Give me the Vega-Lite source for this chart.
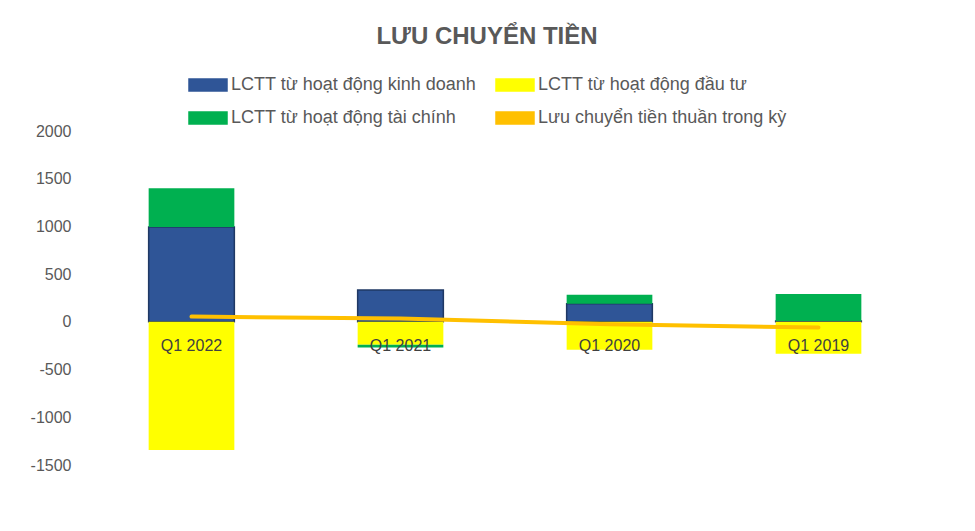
{
  "$schema": "https://vega.github.io/schema/vega-lite/v6.json",
  "width": 836,
  "height": 334,
  "padding": {"left": 30, "top": 25, "right": 10, "bottom": 10},
  "background": "white",
  "title": {
    "text": "LƯU CHUYỂN TIỀN",
    "font": "Liberation Sans",
    "fontSize": 24,
    "fontWeight": "bold",
    "color": "#595959",
    "anchor": "middle",
    "frame": "group",
    "dx": -18,
    "offset": 25
  },
  "datasets": {
    "bars": [
      {"quarter": "Q1 2022", "series": "LCTT từ hoạt động kinh doanh", "value": 995, "ord": 0},
      {"quarter": "Q1 2022", "series": "LCTT từ hoạt động đầu tư", "value": -1342, "ord": 1},
      {"quarter": "Q1 2022", "series": "LCTT từ hoạt động tài chính", "value": 405, "ord": 2},
      {"quarter": "Q1 2021", "series": "LCTT từ hoạt động kinh doanh", "value": 335, "ord": 0},
      {"quarter": "Q1 2021", "series": "LCTT từ hoạt động đầu tư", "value": -240, "ord": 1},
      {"quarter": "Q1 2021", "series": "LCTT từ hoạt động tài chính", "value": -30, "ord": 2},
      {"quarter": "Q1 2020", "series": "LCTT từ hoạt động kinh doanh", "value": 190, "ord": 0},
      {"quarter": "Q1 2020", "series": "LCTT từ hoạt động đầu tư", "value": -293, "ord": 1},
      {"quarter": "Q1 2020", "series": "LCTT từ hoạt động tài chính", "value": 93, "ord": 2},
      {"quarter": "Q1 2019", "series": "LCTT từ hoạt động kinh doanh", "value": 10, "ord": 0},
      {"quarter": "Q1 2019", "series": "LCTT từ hoạt động đầu tư", "value": -335, "ord": 1},
      {"quarter": "Q1 2019", "series": "LCTT từ hoạt động tài chính", "value": 283, "ord": 2}
    ],
    "net": [
      {"quarter": "Q1 2022", "series": "Lưu chuyển tiền thuần trong kỳ", "value": 55},
      {"quarter": "Q1 2021", "series": "Lưu chuyển tiền thuần trong kỳ", "value": 35},
      {"quarter": "Q1 2020", "series": "Lưu chuyển tiền thuần trong kỳ", "value": -25},
      {"quarter": "Q1 2019", "series": "Lưu chuyển tiền thuần trong kỳ", "value": -60}
    ]
  },
  "encoding": {
    "x": {
      "field": "quarter",
      "type": "nominal",
      "sort": ["Q1 2022", "Q1 2021", "Q1 2020", "Q1 2019"],
      "scale": {"paddingInner": 0.59, "paddingOuter": 0.295},
      "axis": null
    }
  },
  "layer": [
    {
      "mark": {"type": "rule", "color": "#D9D9D9", "strokeWidth": 1.5},
      "encoding": {"y": {"datum": 0, "type": "quantitative"}, "x": null}
    },
    {
      "data": {"name": "bars"},
      "mark": {"type": "bar"},
      "encoding": {
        "y": {
          "field": "value",
          "type": "quantitative",
          "stack": "zero",
          "scale": {"domain": [-1500, 2000], "nice": false, "zero": false},
          "axis": {
            "title": null,
            "values": [-1500, -1000, -500, 0, 500, 1000, 1500, 2000],
            "labelExpr": "'' + datum.value",
            "domain": false,
            "ticks": false,
            "grid": false,
            "labelFont": "Liberation Sans",
            "labelFontSize": 16,
            "labelColor": "#595959",
            "labelPadding": 16
          }
        },
        "color": {
          "field": "series",
          "type": "nominal",
          "scale": {
            "domain": ["LCTT từ hoạt động kinh doanh", "LCTT từ hoạt động đầu tư", "LCTT từ hoạt động tài chính", "Lưu chuyển tiền thuần trong kỳ"],
            "range": ["#2F5597", "#FFFF00", "#00B050", "#FFC000"]
          },
          "legend": {
            "title": null,
            "orient": "none",
            "direction": "horizontal",
            "legendX": 110,
            "legendY": -57,
            "columns": 2,
            "columnPadding": 16,
            "rowPadding": 13,
            "labelFont": "Liberation Sans",
            "labelFontSize": 18,
            "labelColor": "#595959",
            "labelOffset": 12,
            "labelLimit": 0,
            "symbolSize": 400,
            "symbolType": "M-1.9,-0.6H1.9V0.6H-1.9Z",
            "encode": {
              "symbols": {
                "shape": {
                  "condition": {"test": "datum.label === 'Lưu chuyển tiền thuần trong kỳ'", "value": "M-1.9,-0.18H1.9V0.18H-1.9Z"},
                  "value": "M-1.9,-0.6H1.9V0.6H-1.9Z"
                },
                "stroke": {
                  "condition": {"test": "datum.label === 'LCTT từ hoạt động kinh doanh'", "value": "#1F3864"},
                  "value": "transparent"
                },
                "strokeWidth": {"value": 1.5}
              }
            }
          }
        },
        "order": {"field": "ord", "type": "quantitative"},
        "stroke": {
          "condition": {"test": "datum.series === 'LCTT từ hoạt động kinh doanh'", "value": "#1F3864"},
          "value": null
        },
        "strokeWidth": {"value": 1.5}
      }
    },
    {
      "data": {"name": "net"},
      "mark": {"type": "line", "strokeWidth": 4, "strokeCap": "round"},
      "encoding": {
        "y": {"field": "value", "type": "quantitative"},
        "color": {"field": "series", "type": "nominal"}
      }
    },
    {
      "data": {"name": "net"},
      "mark": {"type": "text", "dy": 24, "baseline": "middle", "font": "Liberation Sans", "fontSize": 16, "color": "#404040"},
      "encoding": {
        "y": {"datum": 0, "type": "quantitative"},
        "text": {"field": "quarter"}
      }
    }
  ],
  "config": {"view": {"stroke": null}}
}
